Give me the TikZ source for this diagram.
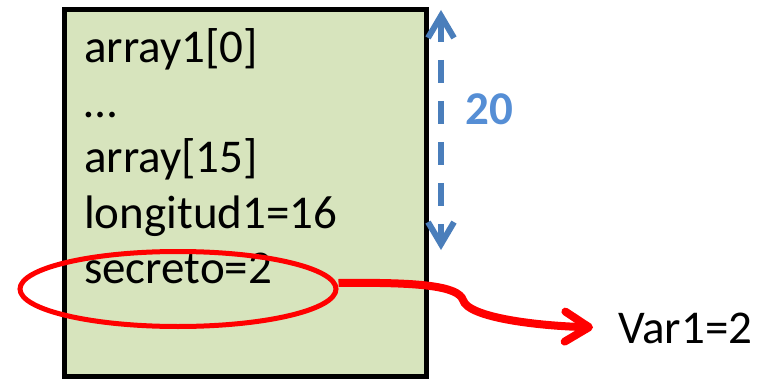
\documentclass[tikz,border=0pt]{standalone}
\usepackage{fontspec}
\setmainfont{Carlito}
\usetikzlibrary{arrows.meta,shapes.geometric}
\definecolor{framegreen}{HTML}{D7E4BD}
\definecolor{dimblue}{HTML}{4A7EBB}
\definecolor{numblue}{HTML}{558ED5}

\begin{document}
\begin{tikzpicture}[x=1pt,y=-1pt,
  every node/.style={font=\fontsize{47}{56}\selectfont},
  field/.style={anchor=base west,inner sep=0pt}]
\useasboundingbox (0,0) rectangle (767,379);

% stack frame
\draw[line width=5pt,fill=framegreen] (64,10) rectangle (426,376);
\node[field] (a0) at (84,63) {array1[0]};
\node[field] (dots) at (84,118) {…};
\node[field] (a15) at (84,173) {array[15]};
\node[field] (len) at (84,228) {longitud1=16};
\node[field] (sec) at (84,283) {secreto=2};

% size of the buffer
\coordinate (top) at (441,10);
\coordinate (bot) at (441,250);
\path[draw,dimblue,line width=6pt,dash pattern=on 23pt off 18pt,
  {Straight Barb[length=22pt,width=26pt]}-{Straight Barb[length=22pt,width=26pt]}] (top) -- (bot);
\node[field,font=\fontsize{47}{56}\selectfont\bfseries,text=numblue] (size) at (465,125) {20};

% leaked value
\node[draw=red,line width=5pt,ellipse,minimum width=316pt,minimum height=75pt,inner sep=0pt] (mark) at (178,289) {};
\node[field] (var) at (618,343) {Var1=2};
\path[draw,red,line width=8pt,shorten >=25pt,-{Straight Barb[length=24pt,width=30pt,round]}]
  ([yshift=6pt]mark.east) .. controls (420,282) and (458,286) .. (463,300)
  .. controls (468,318) and (540,326) .. (var.west);
\end{tikzpicture}
\end{document}
